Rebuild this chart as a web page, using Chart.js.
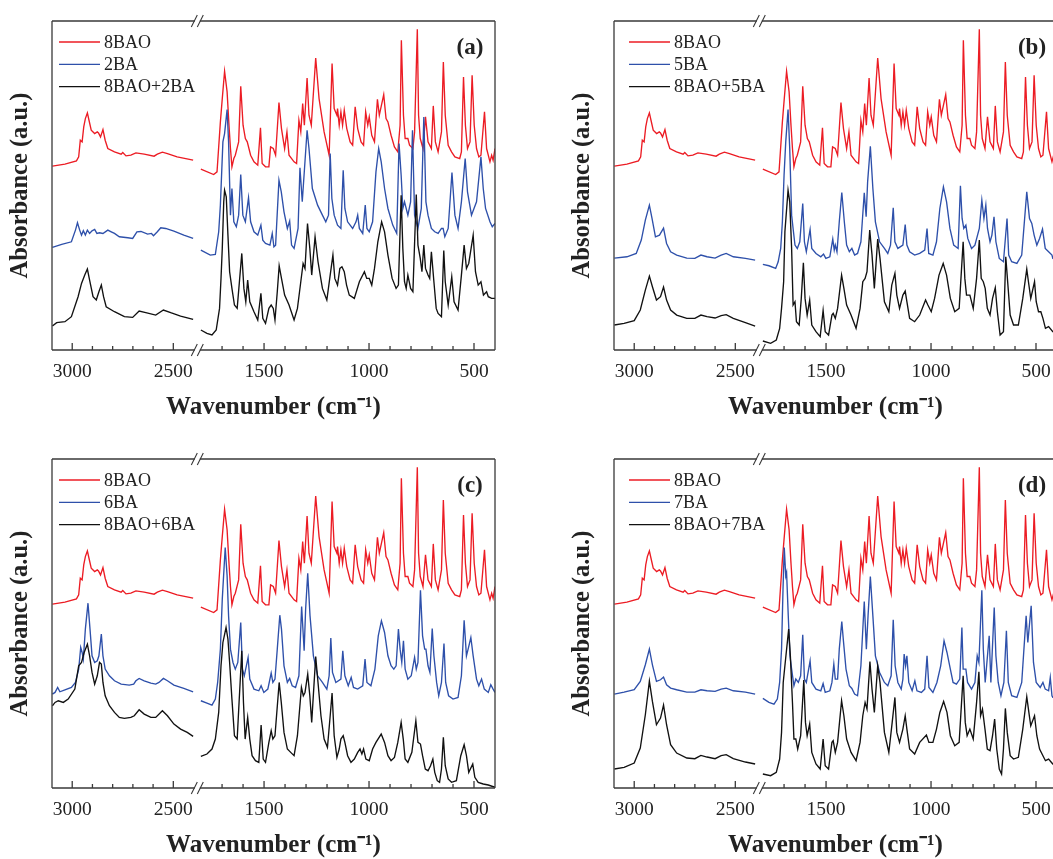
<!DOCTYPE html>
<html>
<head>
<meta charset="utf-8">
<script src="https://cdn.jsdelivr.net/npm/chart.js@4.4.0/dist/chart.umd.min.js"></script>
<style>
html, body { margin: 0; padding: 0; background: #fff; overflow: hidden; width: 1053px; height: 859px; }
.panel { position: absolute; width: 560px; height: 440px; }
</style>
</head>
<body>
<div class="panel" style="left:0;top:0"><canvas id="pa" width="560" height="440"></canvas></div>
<div class="panel" style="left:562px;top:0"><canvas id="pb" width="560" height="440"></canvas></div>
<div class="panel" style="left:0;top:438px"><canvas id="pc" width="560" height="440"></canvas></div>
<div class="panel" style="left:562px;top:438px"><canvas id="pd" width="560" height="440"></canvas></div>
<script>
// x axis: labelled ticks and minor ticks (cm-1)
const tickLabels = [3000, 2500, 1500, 1000, 500];
const minorTicks = [2900, 2800, 2700, 2600, 1700, 1600, 1400, 1300, 1200, 1100, 900, 800, 700, 600];

// spectra as [wavenumber, absorbance a.u.], left part 3100-2400, right part 1800-400
const bao8L = [[3098,552],[3036,558],[2979,568],[2968,580],[2960,630],[2951,625],[2943,670],[2935,695],[2925,712],[2917,690],[2906,660],[2889,650],[2876,655],[2870,652],[2860,640],[2848,662],[2837,630],[2824,605],[2791,595],[2758,588],[2750,593],[2734,583],[2710,585],[2685,592],[2644,588],[2595,582],[2579,588],[2554,594],[2529,590],[2481,580],[2402,570]];
const bao8R = [[1801,543],[1740,527],[1724,535],[1708,685],[1699,755],[1688,837],[1676,775],[1667,675],[1660,605],[1653,550],[1644,575],[1637,585],[1621,625],[1611,792],[1600,675],[1589,635],[1580,625],[1564,585],[1548,565],[1530,555],[1517,667],[1509,560],[1493,550],[1477,550],[1469,610],[1456,605],[1445,585],[1429,743],[1417,665],[1402,605],[1391,655],[1381,585],[1357,565],[1345,560],[1334,690],[1325,655],[1316,740],[1308,675],[1295,817],[1286,705],[1275,675],[1254,877],[1238,755],[1214,655],[1190,585],[1176,860],[1166,725],[1153,705],[1150,725],[1142,675],[1134,715],[1126,675],[1118,720],[1106,665],[1090,625],[1078,615],[1066,730],[1054,665],[1038,625],[1026,615],[1016,715],[1006,675],[999,700],[987,645],[974,625],[960,753],[951,705],[930,767],[919,695],[910,685],[895,645],[879,610],[863,595],[852,675],[846,930],[836,705],[828,635],[815,635],[807,615],[791,605],[783,655],[770,963],[764,705],[756,635],[743,605],[731,700],[719,625],[703,605],[694,733],[684,625],[671,595],[655,655],[646,865],[637,705],[623,615],[607,595],[591,580],[568,575],[560,595],[550,820],[541,675],[531,605],[519,625],[509,825],[499,675],[488,605],[477,580],[467,585],[450,715],[440,605],[424,565],[416,585],[409,570],[400,605]];

const ba2L = [[3098,308],[3052,317],[3004,325],[2984,360],[2974,382],[2963,360],[2954,345],[2945,358],[2935,345],[2925,360],[2914,350],[2902,358],[2889,362],[2878,350],[2865,352],[2848,350],[2824,360],[2807,355],[2791,350],[2767,340],[2725,337],[2701,335],[2680,355],[2660,356],[2627,348],[2608,350],[2598,343],[2579,355],[2562,367],[2538,365],[2497,357],[2448,345],[2402,335]];
const ba2R = [[1801,300],[1756,285],[1732,287],[1716,355],[1708,435],[1696,625],[1688,650],[1676,722],[1669,625],[1660,405],[1653,485],[1644,385],[1632,370],[1621,405],[1611,527],[1601,405],[1589,385],[1574,457],[1564,385],[1548,355],[1530,345],[1515,375],[1506,330],[1493,320],[1472,315],[1461,350],[1453,310],[1445,315],[1429,510],[1418,475],[1405,415],[1389,365],[1378,387],[1369,315],[1357,305],[1338,365],[1329,547],[1318,445],[1295,660],[1286,605],[1270,485],[1245,435],[1222,405],[1206,385],[1193,405],[1185,590],[1177,455],[1166,405],[1150,375],[1134,365],[1123,540],[1115,425],[1102,385],[1078,365],[1062,385],[1054,405],[1046,365],[1030,350],[1018,435],[1010,365],[999,355],[983,385],[967,535],[954,605],[942,565],[926,485],[910,425],[887,375],[868,350],[857,620],[847,525],[839,425],[831,445],[815,405],[802,445],[793,660],[783,405],[767,365],[751,425],[739,700],[729,445],[719,405],[703,365],[687,355],[671,350],[655,365],[647,365],[639,340],[623,365],[605,533],[591,405],[576,365],[560,445],[542,575],[531,475],[512,405],[488,445],[467,580],[456,485],[445,425],[424,385],[413,370],[400,380]];
const mix2L = [[3098,72],[3077,82],[3036,85],[3004,100],[2971,160],[2954,200],[2938,225],[2925,243],[2914,210],[2897,160],[2881,150],[2868,175],[2856,195],[2845,160],[2832,130],[2791,115],[2742,100],[2701,98],[2669,117],[2636,112],[2587,105],[2549,120],[2513,112],[2464,102],[2402,92]];
const mix2R = [[1801,60],[1772,50],[1748,45],[1728,60],[1712,125],[1705,215],[1699,305],[1692,445],[1688,480],[1680,460],[1672,345],[1664,235],[1653,185],[1641,135],[1628,125],[1616,215],[1606,290],[1596,185],[1587,145],[1578,210],[1568,145],[1548,115],[1530,90],[1515,170],[1506,95],[1493,80],[1477,125],[1466,135],[1456,125],[1448,90],[1437,175],[1428,253],[1417,215],[1402,165],[1381,135],[1357,90],[1341,125],[1325,205],[1314,260],[1305,245],[1293,380],[1282,305],[1273,225],[1257,340],[1243,265],[1222,185],[1201,150],[1185,225],[1172,285],[1163,215],[1150,195],[1139,245],[1129,250],[1118,235],[1107,195],[1094,165],[1070,155],[1046,205],[1022,235],[1011,215],[999,215],[987,195],[974,245],[958,325],[940,385],[926,355],[910,285],[890,215],[871,185],[860,195],[847,465],[839,305],[831,205],[823,185],[815,225],[802,185],[791,175],[775,467],[767,315],[756,275],[748,235],[739,315],[731,245],[719,225],[711,215],[703,295],[691,205],[680,125],[671,110],[655,100],[644,299],[637,205],[623,135],[606,220],[595,145],[576,120],[560,225],[547,315],[536,245],[525,260],[504,345],[493,235],[480,195],[467,205],[455,165],[440,175],[432,160],[416,155],[400,155]];

const ba5L = [[3098,276],[3036,280],[2990,290],[2965,330],[2945,390],[2925,435],[2912,395],[2895,340],[2875,345],[2855,366],[2840,320],[2820,295],[2790,285],[2740,276],[2700,275],[2670,285],[2640,280],[2600,276],[2570,285],[2545,290],[2510,280],[2450,275],[2402,270]];
const ba5R = [[1801,257],[1772,253],[1740,245],[1728,265],[1716,305],[1708,385],[1700,525],[1692,625],[1681,722],[1673,605],[1664,405],[1657,365],[1648,315],[1637,305],[1625,325],[1611,440],[1603,325],[1594,295],[1576,362],[1568,305],[1548,290],[1525,280],[1512,288],[1501,275],[1482,280],[1468,333],[1461,300],[1456,315],[1448,295],[1437,385],[1425,473],[1413,385],[1402,315],[1389,295],[1377,305],[1364,285],[1350,290],[1334,325],[1318,472],[1309,400],[1302,505],[1289,612],[1277,485],[1265,385],[1245,325],[1222,305],[1206,290],[1193,315],[1180,427],[1172,325],[1158,305],[1134,315],[1123,377],[1115,315],[1102,295],[1078,285],[1054,290],[1030,300],[1019,365],[1011,290],[991,285],[974,325],[958,425],[941,490],[926,445],[910,365],[892,315],[871,305],[860,493],[852,395],[844,365],[834,375],[825,335],[807,305],[791,315],[770,365],[758,450],[748,395],[739,435],[731,365],[719,325],[710,345],[700,400],[691,325],[675,275],[655,265],[638,395],[630,285],[616,265],[591,260],[568,285],[544,475],[531,395],[520,380],[509,345],[496,315],[483,335],[469,363],[456,305],[440,295],[424,285],[420,275],[400,272]];
const mix5L = [[3098,75],[3050,80],[3000,88],[2970,120],[2945,180],[2925,222],[2910,190],[2890,150],[2870,160],[2855,189],[2840,150],[2820,120],[2790,105],[2740,95],[2700,95],[2670,105],[2640,100],[2600,96],[2570,103],[2545,106],[2510,95],[2450,82],[2402,72]];
const mix5R = [[1801,27],[1764,20],[1737,30],[1721,65],[1712,125],[1702,205],[1696,355],[1681,480],[1673,445],[1664,305],[1657,135],[1648,145],[1641,85],[1628,75],[1618,155],[1608,262],[1600,155],[1590,105],[1578,150],[1568,75],[1548,55],[1528,40],[1514,119],[1504,55],[1488,45],[1472,105],[1466,110],[1456,95],[1445,125],[1426,225],[1415,185],[1402,135],[1381,105],[1357,65],[1338,125],[1325,205],[1314,215],[1305,235],[1292,360],[1281,285],[1270,185],[1254,333],[1243,275],[1222,145],[1201,115],[1187,195],[1172,230],[1163,165],[1150,125],[1134,165],[1123,177],[1115,145],[1102,95],[1078,85],[1054,105],[1026,150],[1015,135],[999,115],[983,155],[962,225],[942,260],[926,225],[908,155],[887,115],[866,125],[847,325],[839,215],[831,165],[815,165],[799,125],[783,215],[770,330],[761,215],[751,205],[742,185],[732,125],[719,105],[707,155],[694,187],[684,115],[671,45],[655,55],[644,280],[635,205],[623,105],[607,75],[584,75],[563,155],[544,243],[536,205],[525,155],[507,205],[499,145],[488,115],[477,115],[467,95],[455,65],[440,70],[420,55],[400,50]];

const ba6L = [[3098,282],[3085,287],[3072,302],[3061,289],[3036,295],[3004,302],[2984,317],[2968,357],[2958,422],[2951,407],[2945,387],[2935,477],[2922,555],[2912,477],[2902,397],[2889,377],[2876,382],[2868,397],[2856,462],[2848,397],[2837,357],[2816,337],[2791,322],[2758,312],[2718,309],[2696,312],[2685,322],[2669,329],[2644,322],[2611,315],[2587,312],[2571,317],[2549,329],[2529,322],[2497,309],[2448,299],[2402,289]];
const ba6R = [[1801,262],[1772,255],[1748,249],[1732,267],[1721,317],[1708,417],[1699,567],[1685,722],[1676,637],[1669,517],[1660,417],[1648,377],[1637,357],[1625,377],[1611,497],[1603,357],[1594,337],[1576,392],[1568,327],[1548,297],[1525,292],[1514,307],[1501,287],[1482,297],[1466,345],[1458,317],[1448,327],[1437,417],[1425,519],[1417,477],[1405,367],[1389,317],[1378,329],[1366,307],[1350,302],[1334,337],[1321,545],[1309,412],[1302,537],[1292,645],[1281,517],[1265,397],[1245,337],[1222,317],[1201,297],[1190,337],[1182,450],[1174,347],[1158,317],[1134,327],[1125,412],[1115,337],[1099,307],[1085,332],[1074,302],[1054,297],[1030,307],[1019,387],[1010,317],[991,307],[972,357],[956,457],[941,502],[926,467],[910,397],[895,367],[882,357],[871,367],[860,477],[852,417],[844,377],[836,442],[828,357],[815,327],[799,337],[783,392],[775,357],[767,377],[755,594],[745,457],[735,417],[729,417],[719,367],[710,347],[699,479],[691,397],[678,317],[668,277],[655,317],[643,434],[635,317],[621,277],[600,267],[576,272],[560,337],[547,504],[536,397],[528,417],[515,452],[504,397],[488,327],[477,307],[464,327],[451,297],[432,287],[420,310],[409,297],[400,287]];
const mix6L = [[3098,247],[3085,257],[3069,262],[3044,257],[3020,267],[2987,297],[2968,367],[2954,377],[2941,407],[2925,432],[2914,397],[2902,347],[2889,312],[2876,337],[2865,377],[2856,372],[2848,317],[2837,277],[2816,247],[2791,227],[2767,212],[2742,209],[2710,212],[2693,217],[2669,235],[2644,222],[2611,212],[2587,212],[2554,232],[2529,217],[2497,192],[2464,177],[2431,167],[2402,155]];
const mix6R = [[1801,95],[1772,102],[1748,117],[1732,147],[1716,227],[1705,367],[1696,437],[1681,482],[1672,447],[1664,377],[1653,267],[1641,157],[1628,147],[1619,257],[1606,412],[1598,257],[1590,147],[1578,212],[1568,147],[1557,97],[1541,82],[1525,77],[1514,189],[1504,87],[1493,77],[1477,137],[1466,172],[1458,147],[1448,157],[1428,317],[1418,257],[1405,167],[1389,117],[1373,107],[1357,97],[1341,157],[1322,302],[1313,277],[1305,287],[1292,342],[1282,277],[1273,197],[1254,395],[1243,317],[1229,217],[1214,147],[1198,122],[1185,217],[1176,285],[1166,157],[1153,92],[1142,117],[1134,147],[1123,157],[1115,137],[1102,97],[1086,77],[1070,87],[1054,107],[1043,117],[1034,102],[1026,117],[1015,87],[999,82],[983,117],[967,137],[942,162],[926,137],[910,97],[895,82],[879,92],[863,137],[847,197],[837,147],[828,87],[815,77],[796,107],[777,202],[767,137],[755,132],[745,97],[732,57],[719,52],[707,67],[696,87],[687,47],[675,22],[664,17],[655,57],[646,152],[637,67],[623,27],[607,17],[584,22],[563,97],[547,130],[536,97],[525,47],[506,72],[496,32],[480,17],[456,12],[432,9],[400,2]];

const ba7L = [[3098,282],[3050,288],[3000,295],[2970,320],[2945,370],[2925,417],[2910,370],[2890,320],[2870,325],[2855,333],[2840,310],[2820,300],[2790,295],[2740,288],[2700,288],[2670,295],[2640,292],[2600,290],[2570,297],[2545,300],[2510,292],[2450,288],[2402,282]];
const ba7R = [[1801,269],[1772,257],[1748,252],[1732,267],[1721,317],[1712,417],[1705,597],[1699,722],[1692,637],[1688,647],[1680,517],[1672,397],[1664,357],[1653,307],[1644,327],[1632,317],[1621,337],[1611,460],[1603,327],[1594,317],[1576,382],[1568,317],[1548,297],[1525,292],[1514,314],[1504,287],[1482,292],[1472,317],[1463,372],[1456,327],[1445,327],[1437,417],[1425,500],[1418,447],[1405,357],[1389,307],[1377,299],[1364,282],[1350,277],[1334,367],[1318,560],[1308,417],[1300,517],[1289,635],[1277,517],[1265,397],[1245,347],[1222,317],[1206,307],[1190,337],[1180,505],[1171,367],[1158,317],[1142,297],[1134,327],[1128,402],[1121,367],[1115,397],[1106,317],[1090,292],[1077,322],[1067,292],[1046,287],[1030,297],[1019,397],[1010,302],[991,287],[972,317],[954,367],[938,442],[924,407],[908,357],[895,317],[879,312],[863,327],[853,482],[847,357],[834,357],[826,317],[807,297],[791,317],[780,397],[772,377],[758,594],[751,417],[742,317],[723,457],[715,317],[699,542],[691,397],[680,317],[667,277],[653,317],[641,472],[632,317],[616,277],[591,272],[568,317],[547,517],[539,437],[523,547],[512,377],[499,317],[480,302],[467,317],[456,297],[440,292],[432,332],[424,277],[420,272],[400,270]];
const mix7L = [[3098,57],[3050,62],[3000,75],[2970,120],[2945,220],[2925,321],[2910,260],[2890,190],[2870,210],[2855,249],[2840,190],[2820,130],[2790,105],[2740,90],[2700,88],[2670,98],[2640,93],[2600,88],[2570,97],[2545,100],[2510,88],[2450,78],[2402,72]];
const mix7R = [[1801,42],[1764,37],[1737,47],[1721,87],[1712,167],[1704,317],[1696,367],[1678,477],[1670,397],[1660,257],[1653,147],[1644,147],[1635,117],[1621,157],[1606,324],[1598,197],[1590,157],[1578,192],[1568,107],[1548,72],[1528,57],[1514,147],[1504,67],[1488,57],[1472,137],[1466,142],[1456,107],[1445,137],[1426,262],[1415,217],[1402,147],[1381,107],[1357,82],[1338,137],[1325,217],[1314,257],[1305,237],[1291,380],[1281,297],[1270,227],[1254,367],[1243,317],[1222,167],[1201,107],[1185,197],[1172,272],[1163,167],[1150,137],[1134,177],[1123,217],[1115,177],[1102,117],[1078,102],[1054,137],[1022,159],[1010,137],[991,137],[974,177],[958,227],[940,260],[924,227],[908,157],[887,127],[866,137],[847,337],[837,197],[828,157],[815,177],[799,147],[783,257],[772,349],[764,217],[755,237],[743,177],[732,117],[719,112],[707,157],[697,207],[687,117],[675,57],[664,42],[655,117],[646,239],[637,167],[623,97],[607,87],[584,92],[563,177],[544,274],[534,227],[525,187],[507,217],[496,157],[483,117],[467,97],[455,82],[440,87],[420,72],[400,70]];

const RED = 'rgb(236,28,36)';
const BLUE = 'rgb(46,80,170)';
const BLACK = '#111';
const SERIF = '"Liberation Serif", "Times New Roman", serif';

// broken axis: 3100-2400 and 1800-400 share one linear scale
function toAxis(w) { return w >= 2100 ? (3100 - w) * 0.963 : 2510 - w; }

function series(left, right) {
    const pts = left.map(p => ({ x: toAxis(p[0]), y: p[1] }));
    pts.push({ x: toAxis(2100), y: null });
    return pts.concat(right.map(p => ({ x: toAxis(p[0]), y: p[1] })));
}

const decor = {
    id: 'decor',
    afterDraw(chart, args, opts) {
        const { ctx, chartArea: { left, right, top, bottom }, scales: { x } } = chart;
        const xb = (x.getPixelForValue(toAxis(2400)) + x.getPixelForValue(toAxis(1800))) / 2;
        ctx.save();
        ctx.strokeStyle = '#3a3a3a';
        ctx.lineWidth = 1.3;
        ctx.beginPath();
        ctx.moveTo(left, top); ctx.lineTo(left, bottom);
        ctx.moveTo(right, top); ctx.lineTo(right, bottom);
        for (const yy of [top, bottom]) {
            ctx.moveTo(left, yy); ctx.lineTo(xb - 2.5, yy);
            ctx.moveTo(xb + 2.5, yy); ctx.lineTo(right, yy);
        }
        ctx.stroke();
        // inward ticks
        ctx.beginPath();
        tickLabels.forEach(w => {
            const px = x.getPixelForValue(toAxis(w));
            ctx.moveTo(px, bottom); ctx.lineTo(px, bottom - 7);
        });
        minorTicks.forEach(w => {
            const px = x.getPixelForValue(toAxis(w));
            ctx.moveTo(px, bottom); ctx.lineTo(px, bottom - 4);
        });
        ctx.stroke();
        // break marks
        ctx.lineWidth = 1.1;
        ctx.beginPath();
        for (const yy of [top, bottom]) {
            for (const cx of [xb - 3, xb + 3]) {
                ctx.moveTo(cx - 3, yy + 6); ctx.lineTo(cx + 3, yy - 6);
            }
        }
        ctx.stroke();
        // legend
        ctx.font = '18px ' + SERIF;
        ctx.textBaseline = 'middle';
        ctx.textAlign = 'left';
        chart.data.datasets.forEach((ds, i) => {
            const yy = opts.legendY + i * 22.3;
            ctx.strokeStyle = ds.borderColor;
            ctx.lineWidth = 1.3;
            ctx.beginPath();
            ctx.moveTo(opts.legendX, yy); ctx.lineTo(opts.legendX + 41, yy);
            ctx.stroke();
            ctx.fillStyle = '#222';
            ctx.fillText(ds.label, opts.legendX + 45, yy + 1);
        });
        // panel letter
        ctx.font = 'bold 23px ' + SERIF;
        ctx.textAlign = 'center';
        ctx.fillText(opts.letter, 470, 48);
        ctx.restore();
    }
};

function makePanel(id, letter, legendX, blueName, blueData, mixName, mixData) {
    new Chart(document.getElementById(id), {
        type: 'line',
        data: {
            datasets: [
                { label: '8BAO', data: series(bao8L, bao8R), borderColor: RED, order: 2 },
                { label: blueName, data: series(blueData[0], blueData[1]), borderColor: BLUE, order: 1 },
                { label: mixName, data: series(mixData[0], mixData[1]), borderColor: BLACK, order: 0 }
            ]
        },
        options: {
            responsive: false,
            animation: false,
            parsing: false,
            spanGaps: false,
            datasets: { line: { borderWidth: 1.35, pointRadius: 0, tension: 0, fill: false } },
            layout: { padding: { top: 21, right: 65, bottom: 0, left: 0 } },
            plugins: {
                legend: { display: false },
                tooltip: { enabled: false },
                decor: { letter: letter, legendX: legendX, legendY: 42 }
            },
            scales: {
                x: {
                    type: 'linear', min: 0, max: 2110,
                    grid: { display: false, drawTicks: false },
                    border: { display: false },
                    afterBuildTicks: s => { s.ticks = tickLabels.map(w => ({ value: toAxis(w) })); },
                    ticks: {
                        autoSkip: false, maxRotation: 0, padding: 10, color: '#222',
                        font: { family: SERIF, size: 19.5 },
                        callback: (v, i) => String(tickLabels[i])
                    },
                    title: {
                        display: true, text: 'Wavenumber (cm⁻¹)', color: '#222',
                        font: { family: SERIF, size: 25, weight: 'bold' },
                        padding: { top: 0, bottom: 17 }
                    },
                    afterFit: s => { s.height = 90; }
                },
                y: {
                    type: 'linear', min: 0, max: 988,
                    grid: { display: false, drawTicks: false },
                    border: { display: false },
                    ticks: { display: false },
                    title: {
                        display: true, text: 'Absorbance (a.u.)', color: '#222',
                        font: { family: SERIF, size: 24.5, weight: 'bold' },
                        padding: { top: 6, bottom: 0 }
                    },
                    afterFit: s => { s.width = 52; }
                }
            }
        },
        plugins: [decor]
    });
}

makePanel('pa', '(a)', 59, '2BA', [ba2L, ba2R], '8BAO+2BA', [mix2L, mix2R]);
makePanel('pb', '(b)', 67, '5BA', [ba5L, ba5R], '8BAO+5BA', [mix5L, mix5R]);
makePanel('pc', '(c)', 59, '6BA', [ba6L, ba6R], '8BAO+6BA', [mix6L, mix6R]);
makePanel('pd', '(d)', 67, '7BA', [ba7L, ba7R], '8BAO+7BA', [mix7L, mix7R]);
</script>
</body>
</html>
